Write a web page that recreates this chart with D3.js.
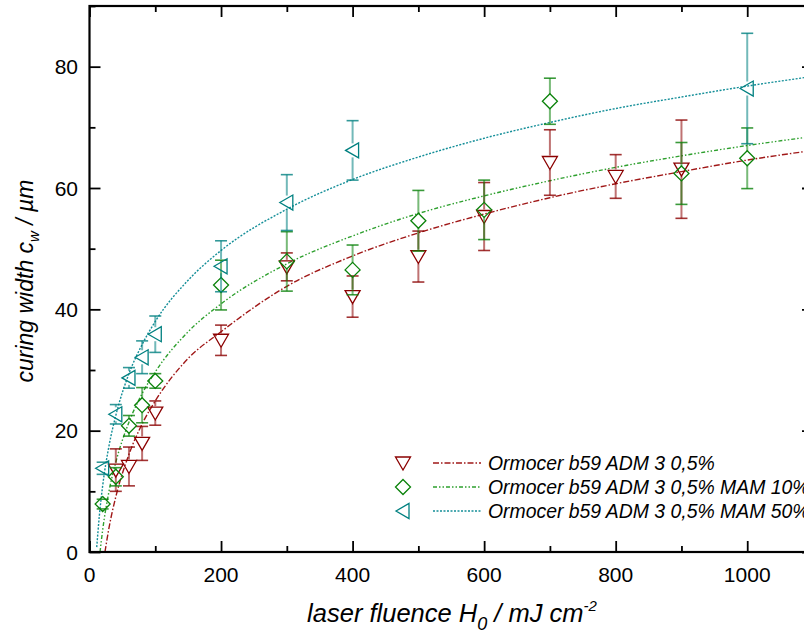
<!DOCTYPE html>
<html>
<head>
<meta charset="utf-8">
<script src="https://cdn.jsdelivr.net/npm/d3@7"></script>
<style>
  body { margin: 0; background: #fff; }
  svg { display: block; font-family: "Liberation Sans", Arial, sans-serif; }
</style>
</head>
<body>
<svg id="chart" width="804" height="641"></svg>
<script>
// Measured points: fluence H0 (mJ/cm2), curing width cw (um), error.
var redH   = [40, 60, 80, 100, 200, 300, 400, 500, 600, 700, 800, 900];
var redCw  = [13.5, 14.1, 17.9, 22.9, 34.9, 47.0, 42.1, 48.7, 55.3, 64.2, 61.9, 63.1];
var redErr = [3.5, 3.2, 2.8, 2.0, 2.5, 2.3, 3.4, 4.2, 5.6, 5.4, 3.6, 8.1];

var greenH   = [20, 40, 60, 80, 100, 200, 300, 400, 500, 600, 700, 900, 1000];
var greenCw  = [7.9, 12.4, 20.8, 24.2, 28.2, 44.0, 47.9, 46.5, 54.6, 56.4, 74.3, 62.4, 64.9];
var greenErr = [0.8, 1.5, 1.7, 2.9, 1.2, 4.1, 4.9, 4.1, 5.0, 4.9, 3.8, 5.1, 5.0];

var cyanH   = [20, 40, 60, 80, 100, 200, 300, 400, 1000];
var cyanCw  = [13.8, 22.7, 28.7, 32.1, 35.9, 47.1, 57.6, 66.2, 76.4];
var cyanErr = [1.0, 1.6, 1.7, 2.7, 3.0, 4.2, 4.6, 4.9, 9.1];

// Fit curves.
var redFitH  = [23.5, 30, 40, 60, 80, 100, 150, 200, 300, 400, 500, 600, 700, 800, 900, 1000, 1100];
var redFitCw = [0, 4.2, 9.1, 16.1, 21.1, 24.9, 31.9, 36.3, 43.8, 48.8, 52.6, 55.7, 58.4, 60.7, 62.7, 64.6, 66.2];
var greenFitH  = [16, 20, 30, 40, 60, 80, 100, 150, 200, 300, 400, 500, 600, 700, 800, 900, 1000, 1100];
var greenFitCw = [0, 3.6, 10.2, 14.8, 21.4, 26.1, 29.7, 36.3, 40.9, 47.5, 52.1, 55.8, 58.7, 61.2, 63.4, 65.3, 67.0, 68.5];
var cyanFitH  = [11, 15, 20, 30, 40, 60, 80, 100, 150, 200, 300, 400, 500, 600, 700, 800, 900, 1000, 1100];
var cyanFitCw = [0.8, 6.0, 10.9, 17.7, 22.5, 29.4, 34.2, 38.0, 44.8, 49.7, 56.5, 61.4, 65.1, 68.2, 70.8, 73.1, 75.0, 76.8, 78.4];

var legendLabels = ["Ormocer b59 ADM 3 0,5%", "Ormocer b59 ADM 3 0,5% MAM 10%", "Ormocer b59 ADM 3 0,5% MAM 50%"];
var xTicks = [0, 200, 400, 600, 800, 1000];
var yTicks = [0, 20, 40, 60, 80];

var svg = d3.select("#chart");
var plotL = 89.5, plotR = 813, plotT = 6, plotB = 552;

var x = d3.scaleLinear().domain([0, 1100]).range([plotL, plotR]);
var y = d3.scaleLinear().domain([0, 90]).range([plotB, plotT]);

var series = [
  { h: redH, cw: redCw, err: redErr, fh: redFitH, fc: redFitCw, color: "#8b0000", fit: "#a01818", dash: "6,2,1.5,2", shape: "down" },
  { h: greenH, cw: greenCw, err: greenErr, fh: greenFitH, fc: greenFitCw, color: "#0a820a", fit: "#2ea02e", dash: "4,2,1.5,2,1.5,2", shape: "diamond" },
  { h: cyanH, cw: cyanCw, err: cyanErr, fh: cyanFitH, fc: cyanFitCw, color: "#008080", fit: "#138e98", dash: "2,1.5", shape: "left" }
];

function markerPath(shape) {
  if (shape == "down") return "M-7.5,-6L7.5,-6L0,7Z";
  if (shape == "diamond") return "M0,-7.5L7.5,0L0,7.5L-7.5,0Z";
  return "M-7,0L6,-7.5L6,7.5Z";
}

// Fit curves.
var line = d3.line()
  .x(function(d) { return x(d[0]); })
  .y(function(d) { return y(d[1]); })
  .curve(d3.curveMonotoneX);

series.forEach(function(s) {
  svg.append("path")
    .attr("d", line(d3.zip(s.fh, s.fc)))
    .attr("fill", "none")
    .attr("stroke", s.fit)
    .attr("stroke-width", 1.4)
    .attr("stroke-dasharray", s.dash);
});

// Error bars and markers.
series.forEach(function(s) {
  var g = svg.append("g");
  var pts = s.h.map(function(h, i) { return { h: h, c: s.cw[i], e: s.err[i] }; });
  var gap = 7;

  pts.forEach(function(d) {
    var cx = x(d.h), cy = y(d.c), yt = y(d.c + d.e), yb = y(d.c - d.e);
    if (cy - gap > yt) {
      g.append("line").attr("x1", cx).attr("x2", cx).attr("y1", yt).attr("y2", cy - gap)
        .attr("stroke", s.color).attr("stroke-width", 2).attr("opacity", 0.55);
    }
    if (cy + gap < yb) {
      g.append("line").attr("x1", cx).attr("x2", cx).attr("y1", cy + gap).attr("y2", yb)
        .attr("stroke", s.color).attr("stroke-width", 2).attr("opacity", 0.55);
    }
    [yt, yb].forEach(function(yy) {
      g.append("line").attr("x1", cx - 6).attr("x2", cx + 6).attr("y1", yy).attr("y2", yy)
        .attr("stroke", s.color).attr("stroke-width", 1.6).attr("opacity", 0.8);
    });
  });

  g.selectAll("path.mark")
    .data(pts)
    .enter()
    .append("path")
    .attr("class", "mark")
    .attr("d", markerPath(s.shape))
    .attr("transform", function(d) { return "translate(" + x(d.h) + "," + y(d.c) + ")"; })
    .attr("fill", "none")
    .attr("stroke", s.color)
    .attr("stroke-width", 1.3);
});

// Axes, ticks pointing inward.
function minor(a, b, step) { return d3.range(a, b + 0.001, step); }

var xAxisB = d3.axisTop(x).tickValues(d3.range(0, 1101, 200)).tickSize(11).tickFormat("");
var xAxisBm = d3.axisTop(x).tickValues(minor(100, 1100, 200)).tickSize(6).tickFormat("");
var xAxisT = d3.axisBottom(x).tickValues(d3.range(0, 1101, 200)).tickSize(11).tickFormat("");
var xAxisTm = d3.axisBottom(x).tickValues(minor(100, 1100, 200)).tickSize(6).tickFormat("");
var yAxisL = d3.axisRight(y).tickValues(yTicks).tickSize(11).tickFormat("");
var yAxisLm = d3.axisRight(y).tickValues(minor(10, 90, 20)).tickSize(6).tickFormat("");
var yAxisR = d3.axisLeft(y).tickValues(yTicks).tickSize(11).tickFormat("");
var yAxisRm = d3.axisLeft(y).tickValues(minor(10, 90, 20)).tickSize(6).tickFormat("");

[[xAxisB, "translate(0," + plotB + ")"], [xAxisBm, "translate(0," + plotB + ")"],
 [xAxisT, "translate(0," + plotT + ")"], [xAxisTm, "translate(0," + plotT + ")"],
 [yAxisL, "translate(" + plotL + ",0)"], [yAxisLm, "translate(" + plotL + ",0)"],
 [yAxisR, "translate(" + plotR + ",0)"], [yAxisRm, "translate(" + plotR + ",0)"]]
  .forEach(function(a) {
    var ax = svg.append("g").attr("transform", a[1]).call(a[0]);
    ax.select(".domain").remove();
    ax.selectAll(".tick line").attr("stroke", "#000").attr("stroke-width", 1.8);
  });

// Frame.
svg.append("rect")
  .attr("x", plotL).attr("y", plotT)
  .attr("width", plotR - plotL).attr("height", plotB - plotT)
  .attr("fill", "none").attr("stroke", "#000").attr("stroke-width", 2.2);

// Tick labels.
svg.selectAll("text.xl")
  .data(xTicks)
  .enter()
  .append("text")
  .attr("class", "xl")
  .attr("x", function(d) { return x(d); })
  .attr("y", 582)
  .attr("text-anchor", "middle")
  .attr("font-size", 21)
  .text(function(d) { return d; });

svg.selectAll("text.yl")
  .data(yTicks)
  .enter()
  .append("text")
  .attr("class", "yl")
  .attr("x", 78)
  .attr("y", function(d) { return y(d) + 7.5; })
  .attr("text-anchor", "end")
  .attr("font-size", 21)
  .text(function(d) { return d; });

// Axis titles.
var xt = svg.append("text")
  .attr("x", 452).attr("y", 622)
  .attr("text-anchor", "middle")
  .attr("font-size", 25.5)
  .attr("font-style", "italic");
xt.append("tspan").text("laser fluence H");
xt.append("tspan").attr("font-size", 18).attr("dy", 8).text("0");
xt.append("tspan").attr("dy", -8).text(" / mJ cm");
xt.append("tspan").attr("font-size", 15).attr("dy", -11).text("-2");

var ytitle = svg.append("text")
  .attr("transform", "translate(33,281) rotate(-90)")
  .attr("text-anchor", "middle")
  .attr("font-size", 23)
  .attr("font-style", "italic");
ytitle.append("tspan").text("curing width c");
ytitle.append("tspan").attr("font-size", 15).attr("dy", 6).text("w");
ytitle.append("tspan").attr("dy", -6).text(" / \u00b5m");

// Legend.
var leg = svg.selectAll("g.leg")
  .data(series)
  .enter()
  .append("g")
  .attr("class", "leg")
  .attr("transform", function(d, i) { return "translate(0," + (463 + i * 24) + ")"; });

leg.append("path")
  .attr("d", function(d) { return markerPath(d.shape); })
  .attr("transform", "translate(403,0)")
  .attr("fill", "none")
  .attr("stroke", function(d) { return d.color; })
  .attr("stroke-width", 1.3);

leg.append("line")
  .attr("x1", 433).attr("x2", 481)
  .attr("stroke", function(d) { return d.fit; })
  .attr("stroke-width", 1.4)
  .attr("stroke-dasharray", function(d) { return d.dash; });

leg.append("text")
  .attr("x", 488).attr("y", 7)
  .attr("font-size", 19.4)
  .attr("font-style", "italic")
  .text(function(d, i) { return legendLabels[i]; });
</script>
</body>
</html>
